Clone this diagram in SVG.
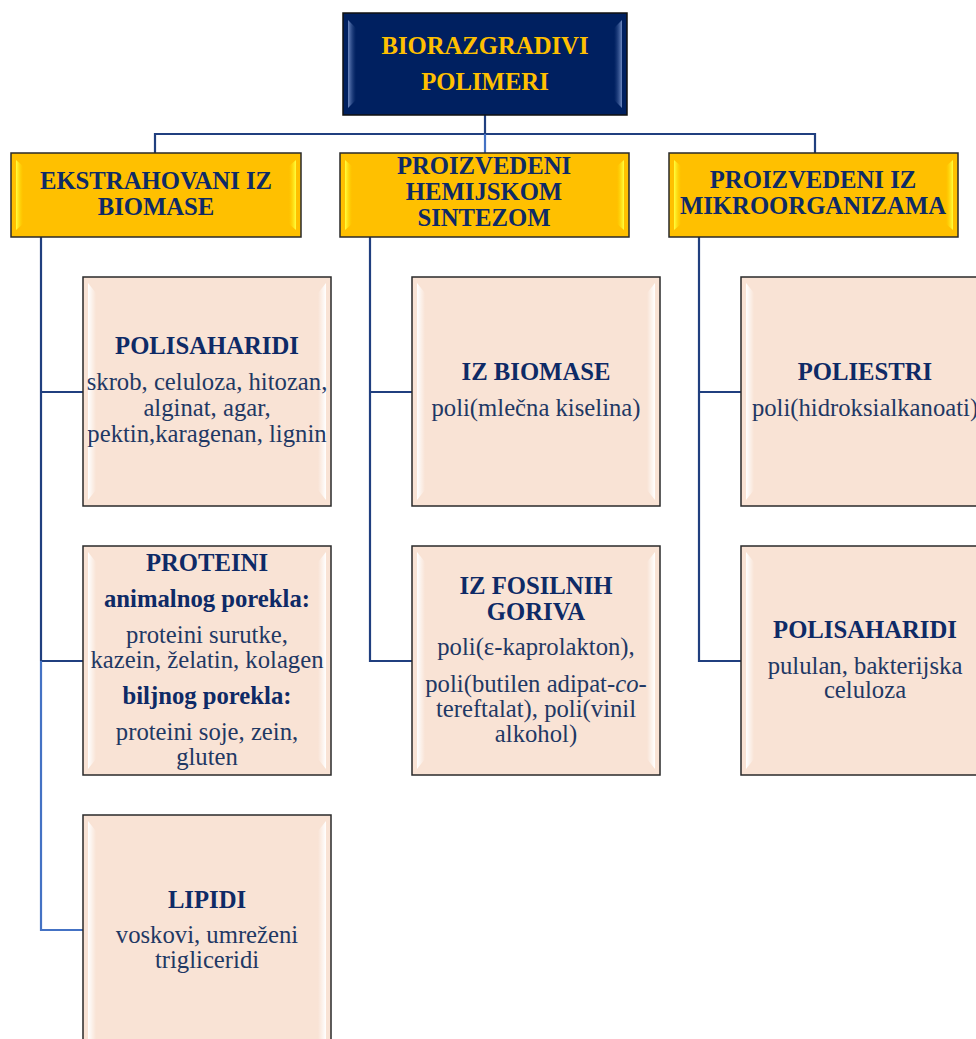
<svg xmlns="http://www.w3.org/2000/svg" width="976" height="1039" viewBox="0 0 976 1039">
<defs>
<linearGradient id="gTopL" x1="0" x2="1" y1="0" y2="0"><stop offset="0" stop-color="#6d88c0"/><stop offset="1" stop-color="#2a4a8a" stop-opacity="0"/></linearGradient>
<linearGradient id="gTopR" x1="1" x2="0" y1="0" y2="0"><stop offset="0" stop-color="#6d88c0"/><stop offset="1" stop-color="#2a4a8a" stop-opacity="0"/></linearGradient>
<linearGradient id="gCatL" x1="0" x2="1" y1="0" y2="0"><stop offset="0" stop-color="#ffff40"/><stop offset="1" stop-color="#ffe000" stop-opacity="0"/></linearGradient>
<linearGradient id="gCatR" x1="1" x2="0" y1="0" y2="0"><stop offset="0" stop-color="#ffff40"/><stop offset="1" stop-color="#ffe000" stop-opacity="0"/></linearGradient>
<linearGradient id="gLeafL" x1="0" x2="1" y1="0" y2="0"><stop offset="0" stop-color="#ffffff"/><stop offset="1" stop-color="#ffffff" stop-opacity="0"/></linearGradient>
<linearGradient id="gLeafR" x1="1" x2="0" y1="0" y2="0"><stop offset="0" stop-color="#ffffff"/><stop offset="1" stop-color="#ffffff" stop-opacity="0"/></linearGradient>
</defs>
<style>
.top{fill:#002060;stroke:#111;stroke-width:1.5}
.cat{fill:#FFC000;stroke:#2a2a2a;stroke-width:1.5}
.leaf{fill:#F9E3D5;stroke:#2a2a2a;stroke-width:1.5}
text{font-family:"Liberation Serif","Times New Roman",serif;font-size:24.7px;text-anchor:middle}
.tt{fill:#FFC000;font-weight:bold}
.tc{fill:#0E2A66;font-weight:bold}
.h{fill:#0E2A66;font-weight:bold}
.b{fill:#1F3864}
.con{fill:none;stroke:#203F7F;stroke-width:2.2}
.con2{fill:none;stroke:#4472C4;stroke-width:2.2}
</style>
<rect width="976" height="1039" fill="#ffffff"/>

<g id="connectors">
<path class="con" d="M485 115V134"/>
<path class="con" d="M155 153V134H815V153"/>
<path class="con2" d="M485 134V153"/>
<path class="con" d="M41 237V661"/>
<path class="con" d="M41 392H83"/>
<path class="con" d="M41 661H83"/>
<path class="con2" d="M41 661V930H83"/>
<path class="con" d="M370 237V661H412"/>
<path class="con" d="M370 392H412"/>
<path class="con" d="M699 237V661H741"/>
<path class="con" d="M699 392H741"/>
</g>

<g id="root">
<rect class="top" x="343" y="13" width="284" height="102"/>
<polygon points="348,20 356,28 356,100 348,108" fill="url(#gTopL)"/>
<polygon points="622,20 614,28 614,100 622,108" fill="url(#gTopR)"/>
<text class="tt" x="485" y="54">BIORAZGRADIVI</text>
<text class="tt" x="485" y="90">POLIMERI</text>
</g>

<g id="cat1">
<rect class="cat" x="11" y="153" width="290" height="84"/>
<polygon points="16,160 23,166 23,224 16,230" fill="url(#gCatL)"/>
<polygon points="296,160 289,166 289,224 296,230" fill="url(#gCatR)"/>
<text class="tc" x="156" y="189">EKSTRAHOVANI IZ</text>
<text class="tc" x="156" y="215">BIOMASE</text>
</g>

<g id="cat2">
<rect class="cat" x="340" y="153" width="289" height="84"/>
<polygon points="345,160 352,166 352,224 345,230" fill="url(#gCatL)"/>
<polygon points="624,160 617,166 617,224 624,230" fill="url(#gCatR)"/>
<text class="tc" x="484" y="174">PROIZVEDENI</text>
<text class="tc" x="484" y="200">HEMIJSKOM</text>
<text class="tc" x="484" y="226">SINTEZOM</text>
</g>

<g id="cat3">
<rect class="cat" x="669" y="153" width="289" height="84"/>
<polygon points="674,160 681,166 681,224 674,230" fill="url(#gCatL)"/>
<polygon points="953,160 946,166 946,224 953,230" fill="url(#gCatR)"/>
<text class="tc" x="813" y="188">PROIZVEDENI IZ</text>
<text class="tc" x="813" y="214">MIKROORGANIZAMA</text>
</g>

<g id="polisaharidi1">
<rect class="leaf" x="83" y="277" width="248" height="229"/>
<polygon points="88,283 96,293 96,490 88,500" fill="url(#gLeafL)"/>
<polygon points="326,283 318,293 318,490 326,500" fill="url(#gLeafR)"/>
<text class="h" x="207" y="354">POLISAHARIDI</text>
<text class="b" x="207" y="390">skrob, celuloza, hitozan,</text>
<text class="b" x="207" y="416">alginat, agar,</text>
<text class="b" x="207" y="442">pektin,karagenan, lignin</text>
</g>

<g id="proteini">
<rect class="leaf" x="83" y="546" width="248" height="229"/>
<polygon points="88,552 96,562 96,759 88,769" fill="url(#gLeafL)"/>
<polygon points="326,552 318,562 318,759 326,769" fill="url(#gLeafR)"/>
<text class="h" x="207" y="571">PROTEINI</text>
<text class="h" x="207" y="607">animalnog porekla:</text>
<text class="b" x="207" y="643">proteini surutke,</text>
<text class="b" x="207" y="668">kazein, želatin, kolagen</text>
<text class="h" x="207" y="704">biljnog porekla:</text>
<text class="b" x="207" y="740">proteini soje, zein,</text>
<text class="b" x="207" y="765">gluten</text>
</g>

<g id="lipidi">
<rect class="leaf" x="83" y="815" width="248" height="232"/>
<polygon points="88,821 96,831 96,1040 88,1045" fill="url(#gLeafL)"/>
<polygon points="326,821 318,831 318,1040 326,1045" fill="url(#gLeafR)"/>
<text class="h" x="207" y="908">LIPIDI</text>
<text class="b" x="207" y="943">voskovi, umreženi</text>
<text class="b" x="207" y="968">trigliceridi</text>
</g>

<g id="izbiomase">
<rect class="leaf" x="412" y="277" width="248" height="229"/>
<polygon points="417,283 425,293 425,490 417,500" fill="url(#gLeafL)"/>
<polygon points="655,283 647,293 647,490 655,500" fill="url(#gLeafR)"/>
<text class="h" x="536" y="380">IZ BIOMASE</text>
<text class="b" x="536" y="416">poli(mlečna kiselina)</text>
</g>

<g id="izfosilnih">
<rect class="leaf" x="412" y="546" width="248" height="229"/>
<polygon points="417,552 425,562 425,759 417,769" fill="url(#gLeafL)"/>
<polygon points="655,552 647,562 647,759 655,769" fill="url(#gLeafR)"/>
<text class="h" x="536" y="594">IZ FOSILNIH</text>
<text class="h" x="536" y="620">GORIVA</text>
<text class="b" x="536" y="655">poli(ε-kaprolakton),</text>
<text class="b" x="536" y="692">poli(butilen adipat-<tspan font-style="italic">co</tspan>-</text>
<text class="b" x="536" y="717">tereftalat), poli(vinil</text>
<text class="b" x="536" y="742">alkohol)</text>
</g>

<g id="poliestri">
<rect class="leaf" x="741" y="277" width="250" height="229"/>
<polygon points="746,283 754,293 754,490 746,500" fill="url(#gLeafL)"/>
<text class="h" x="865" y="380">POLIESTRI</text>
<text class="b" x="865" y="416">poli(hidroksialkanoati)</text>
</g>

<g id="polisaharidi3">
<rect class="leaf" x="741" y="546" width="250" height="229"/>
<polygon points="746,552 754,562 754,759 746,769" fill="url(#gLeafL)"/>
<text class="h" x="865" y="638">POLISAHARIDI</text>
<text class="b" x="865" y="674">pululan, bakterijska</text>
<text class="b" x="865" y="698">celuloza</text>
</g>
</svg>
